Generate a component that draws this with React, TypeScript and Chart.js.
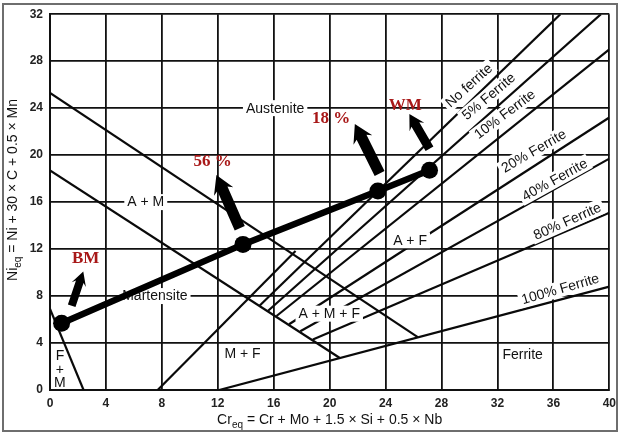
import React, { useEffect, useRef } from "react";
import { Chart, registerables } from "chart.js";

Chart.register(...registerables);

// ---- tick values ----
const xTickValues = [0, 4, 8, 12, 16, 20, 24, 28, 32, 36, 40];
const yTickValues = [0, 4, 8, 12, 16, 20, 24, 28, 32];

// ---- diagram boundary lines (Cr_eq, Ni_eq) ----
const austeniteLine = [[0, 25.3], [26.3, 4.5]];
const martensiteLine = [[0, 18.7], [20.7, 2.75]];
const fmLine = [[0, 6.9], [2.4, 0]];
const mfLine = [[7.7, 0], [17.56, 11.83]];
const noFerrite = [[15.0, 7.2], [36.5, 32]];
const ferrite5 = [[15.6, 6.75], [39.4, 32]];
const ferrite10 = [[16.2, 6.3], [40, 29.0]];
const ferrite20 = [[17.1, 5.6], [40, 23.2]];
const ferrite40 = [[17.9, 5.0], [40, 19.7]];
const ferrite80 = [[18.8, 4.3], [40, 15.1]];
const ferrite100 = [[12.1, 0], [40, 8.8]];

// ---- measured path (BM -> WM) ----
const pathCr = [0.83, 13.8, 23.45, 27.14];
const pathNi = [5.68, 12.4, 16.95, 18.72];

// ---- arrow start/end (Cr_eq, Ni_eq) ----
const arrowFromCr = [1.55, 13.57, 23.57, 27.14];
const arrowFromNi = [7.18, 13.77, 18.44, 20.55];
const arrowToCr = [2.38, 11.9, 21.8, 25.7];
const arrowToNi = [10.1, 18.3, 22.66, 23.5];
const arrowSize = [[8, 15, 11], [11, 21, 15], [11, 21, 15], [9, 17, 12]];

// ---- red annotations ----
const redTexts = ["BM", "56 %", "18 %", "WM"];
const redCr = [2.55, 11.63, 20.1, 25.4];
const redNi = [11.15, 19.43, 23.1, 24.25];

// ---- region / line labels ----
const regionLabels: [string, number, number, number, boolean][] = [
  ["Austenite", 16.1, 24, 0, true],
  ["A + M", 6.85, 16, 0, true],
  ["Martensite", 7.5, 8, 0, true],
  ["M + F", 13.77, 3.1, 0, false],
  ["A + M + F", 19.97, 6.5, 0, true],
  ["A + F", 25.75, 12.75, 0, true],
  ["Ferrite", 33.8, 3.04, 0, false],
  ["No ferrite", 29.96, 25.93, -42, true],
  ["5% Ferrite", 31.38, 25.0, -40, true],
  ["10% Ferrite", 32.52, 23.48, -37, true],
  ["20% Ferrite", 34.6, 20.35, -30, true],
  ["40% Ferrite", 36.1, 17.9, -29, true],
  ["80% Ferrite", 37.0, 14.36, -24, true],
  ["100% Ferrite", 36.5, 8.6, -16, true],
];
const fmStack = ["F", "+", "M"];
const fmStackCr = [0.71, 0.71, 0.71];
const fmStackNi = [2.87, 1.7, 0.6];

const SANS = "'Liberation Sans', Arial, sans-serif";
const SERIF = "'Liberation Serif', 'Times New Roman', serif";

const toPts = (arr: number[][]) => arr.map(([x, y]) => ({ x, y }));

function drawArrow(ctx: CanvasRenderingContext2D, x0: number, y0: number, x1: number, y1: number, sw: number, hw: number, hl: number) {
  const dx = x1 - x0, dy = y1 - y0;
  const len = Math.hypot(dx, dy);
  const ux = dx / len, uy = dy / len;
  const nx = -uy, ny = ux;
  const bx = x1 - ux * hl, by = y1 - uy * hl;
  ctx.beginPath();
  ctx.moveTo(x0 + nx * sw / 2, y0 + ny * sw / 2);
  ctx.lineTo(bx + nx * sw / 2, by + ny * sw / 2);
  ctx.lineTo(bx + nx * hw / 2 - ux * 3, by + ny * hw / 2 - uy * 3);
  ctx.lineTo(x1, y1);
  ctx.lineTo(bx - nx * hw / 2 - ux * 3, by - ny * hw / 2 - uy * 3);
  ctx.lineTo(bx - nx * sw / 2, by - ny * sw / 2);
  ctx.lineTo(x0 - nx * sw / 2, y0 - ny * sw / 2);
  ctx.closePath();
  ctx.fill();
}

const overlay = {
  id: "overlay",
  beforeDatasetDraw(chart: any, args: any) {
    if (args.index !== 0) return;
    const { ctx, scales } = chart;
    const xs = scales.x, ys = scales.y;
    ctx.save();
    for (const [text, cx, cy, ang, bg] of regionLabels) {
      const px = xs.getPixelForValue(cx), py = ys.getPixelForValue(cy);
      ctx.save();
      ctx.translate(px, py);
      ctx.rotate((ang * Math.PI) / 180);
      ctx.font = `14px ${SANS}`;
      const w = ctx.measureText(text).width;
      if (bg) {
        ctx.fillStyle = "#ffffff";
        ctx.fillRect(-w / 2 - 3, -8, w + 6, 16);
      }
      ctx.fillStyle = "#111";
      ctx.textAlign = "center";
      ctx.textBaseline = "middle";
      ctx.fillText(text, 0, 0.5);
      ctx.restore();
    }
    ctx.font = `14px ${SANS}`;
    ctx.fillStyle = "#111";
    ctx.textAlign = "center";
    ctx.textBaseline = "middle";
    fmStack.forEach((t, i) => {
      ctx.fillText(t, xs.getPixelForValue(fmStackCr[i]), ys.getPixelForValue(fmStackNi[i]));
    });
    ctx.restore();
  },
  afterDatasetsDraw(chart: any) {
    const { ctx, scales } = chart;
    const xs = scales.x, ys = scales.y;
    ctx.save();
    ctx.fillStyle = "#000";
    for (let i = 0; i < arrowFromCr.length; i++) {
      const [sw, hw, hl] = arrowSize[i];
      drawArrow(
        ctx,
        xs.getPixelForValue(arrowFromCr[i]), ys.getPixelForValue(arrowFromNi[i]),
        xs.getPixelForValue(arrowToCr[i]), ys.getPixelForValue(arrowToNi[i]),
        sw, hw, hl
      );
    }
    ctx.font = `bold 17px ${SERIF}`;
    ctx.fillStyle = "#a81818";
    ctx.textAlign = "center";
    ctx.textBaseline = "middle";
    redTexts.forEach((t, i) => {
      ctx.fillText(t, xs.getPixelForValue(redCr[i]), ys.getPixelForValue(redNi[i]));
    });
    ctx.restore();
  },
  afterDraw(chart: any) {
    const { ctx, chartArea } = chart;
    ctx.save();
    const big = `14px ${SANS}`, small = `10px ${SANS}`;
    const parts: [string, string, number][] = [
      ["Cr", big, 0],
      ["eq", small, 4],
      [" = Cr + Mo + 1.5 × Si + 0.5 × Nb", big, 0],
    ];
    let total = 0;
    for (const [t, f] of parts) { ctx.font = f; total += ctx.measureText(t).width; }
    let x = (chartArea.left + chartArea.right) / 2 - total / 2;
    const by = 424;
    ctx.fillStyle = "#111";
    ctx.textBaseline = "alphabetic";
    ctx.textAlign = "left";
    for (const [t, f, off] of parts) {
      ctx.font = f;
      ctx.fillText(t, x, by + off);
      x += ctx.measureText(t).width;
    }
    const yparts: [string, string, number][] = [
      ["Ni", big, 0],
      ["eq", small, 4],
      [" = Ni + 30 × C + 0.5 × Mn", big, 0],
    ];
    total = 0;
    for (const [t, f] of yparts) { ctx.font = f; total += ctx.measureText(t).width; }
    ctx.translate(17, 190);
    ctx.rotate(-Math.PI / 2);
    x = -total / 2;
    for (const [t, f, off] of yparts) {
      ctx.font = f;
      ctx.fillText(t, x, off);
      x += ctx.measureText(t).width;
    }
    ctx.restore();
    ctx.save();
    ctx.strokeStyle = "#6e6e6e";
    ctx.lineWidth = 2;
    ctx.strokeRect(3, 4, 614, 427);
    ctx.restore();
  },
};

export default function App() {
  const ref = useRef<HTMLCanvasElement | null>(null);
  useEffect(() => {
    if (!ref.current) return;
    const lineDs = (data: number[][]) => ({
      data: toPts(data),
      showLine: true,
      borderColor: "#0a0a0a",
      borderWidth: 2.2,
      pointRadius: 0,
      fill: false,
    });
    const chart = new Chart(ref.current, {
      type: "scatter",
      data: {
        datasets: [
          {
            data: pathCr.map((x, i) => ({ x, y: pathNi[i] })),
            showLine: true,
            borderColor: "#000",
            borderWidth: 6.5,
            pointRadius: 8.5,
            pointBackgroundColor: "#000",
            pointBorderColor: "#000",
            pointBorderWidth: 0,
            fill: false,
          } as any,
          lineDs(austeniteLine),
          lineDs(martensiteLine),
          lineDs(fmLine),
          lineDs(mfLine),
          lineDs(noFerrite),
          lineDs(ferrite5),
          lineDs(ferrite10),
          lineDs(ferrite20),
          lineDs(ferrite40),
          lineDs(ferrite80),
          lineDs(ferrite100),
        ],
      },
      options: {
        responsive: false,
        animation: false,
        devicePixelRatio: 1,
        layout: { padding: { top: 11, right: 10, left: 0, bottom: 0 } },
        plugins: { legend: { display: false }, tooltip: { enabled: false } },
        scales: {
          x: {
            type: "linear",
            min: 0,
            max: 40,
            afterBuildTicks: (s: any) => { s.ticks = xTickValues.map((v) => ({ value: v })); },
            afterFit: (s: any) => { s.height = 45; },
            ticks: { padding: 6, color: "#222", font: { family: SANS, size: 12, weight: "bold" } },
            grid: { color: "#111", lineWidth: 1.8, drawTicks: false },
            border: { display: true, color: "#111", width: 2 },
          },
          y: {
            type: "linear",
            min: 0,
            max: 32,
            afterBuildTicks: (s: any) => { s.ticks = yTickValues.map((v) => ({ value: v })); },
            afterFit: (s: any) => { s.width = 50; },
            ticks: { padding: 7, color: "#222", font: { family: SANS, size: 12, weight: "bold" } },
            grid: { color: "#111", lineWidth: 1.8, drawTicks: false },
            border: { display: true, color: "#111", width: 2 },
          },
        },
      } as any,
      plugins: [overlay],
    });
    return () => chart.destroy();
  }, []);
  return (
    <div style={{ position: "absolute", left: 0, top: 0, width: 622, height: 435, background: "#fff" }}>
      <canvas ref={ref} width={622} height={435} style={{ width: 622, height: 435, display: "block" }} />
    </div>
  );
}
